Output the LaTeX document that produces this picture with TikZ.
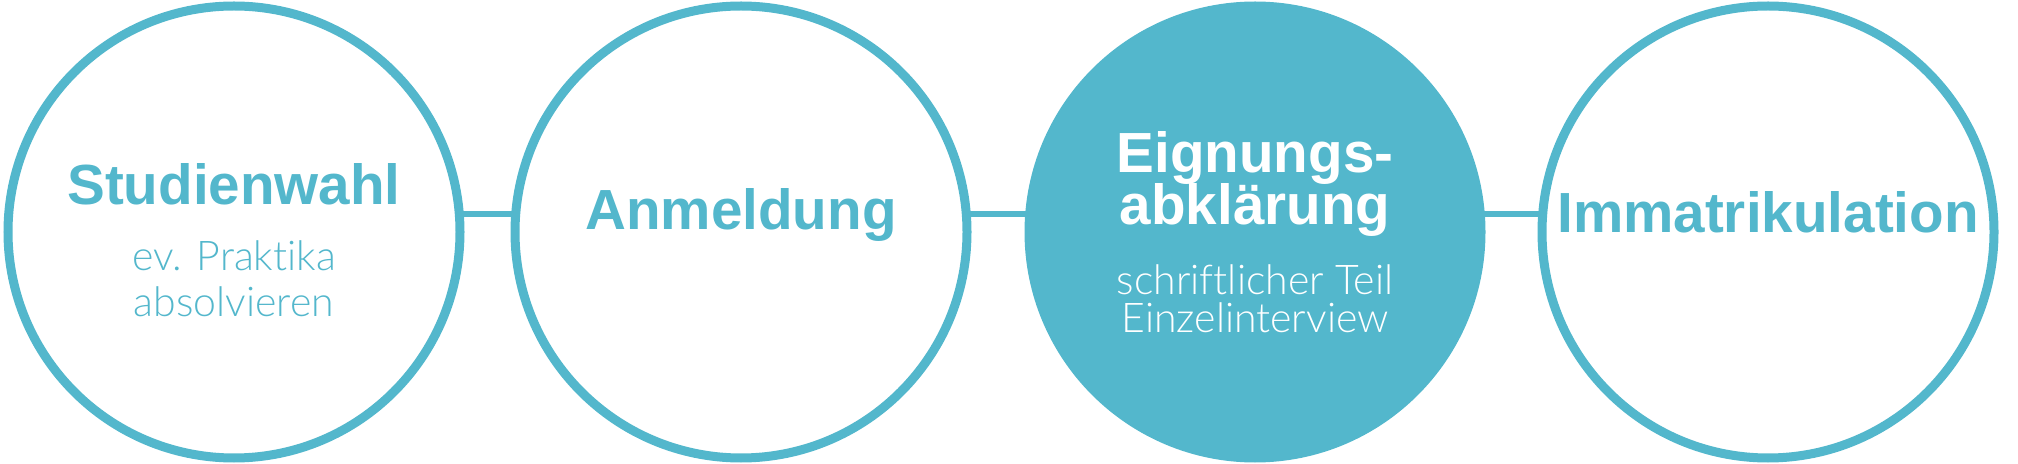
\documentclass[tikz,border=0pt]{standalone}
\usepackage{fontspec}
\setmainfont{Liberation Sans}
\IfFontExistsTF{Lato Light}{\newfontfamily\lightfont{Lato Light}[Ligatures=NoCommon]}{\newfontfamily\lightfont{Liberation Sans}}
\definecolor{teal1}{RGB}{83,183,204}
\tikzset{
  ring/.style={circle, draw=teal1, line width=4.5pt, minimum size=226pt, inner sep=0pt, fill=white},
  ringfilled/.style={ring, fill=teal1},
  link/.style={draw=teal1, line width=3.3pt},
  title/.style={anchor=base, inner sep=0pt, font=\fontsize{28.3}{30}\selectfont\bfseries},
  sub/.style={anchor=base, inner sep=0pt, font=\fontsize{20.5}{22}\selectfont\lightfont},
}
\begin{document}
\begin{tikzpicture}[x=0.5pt, y=-0.5pt]
\useasboundingbox (0,0) rectangle (2018,464);
% connectors drawn first (behind circles)
\coordinate (p1) at (234,214);
\coordinate (p2) at (741,214);
\coordinate (p3) at (1255,214);
\coordinate (p4) at (1768,214);
\draw[link] (p1) -- (p2);
\draw[link] (p2) -- (p3);
\draw[link] (p3) -- (p4);
\node[ring] (c1) at (234,232) {};
\node[ring] (c2) at (741,232) {};
\node[ringfilled] (c3) at (1255,232) {};
\node[ring] (c4) at (1768,232) {};
% texts
\node[title, text=teal1] (t1) at (234,205) {Studienwahl};
\node[sub, text=teal1] (s1a) at (234,271) {ev. Praktika};
\node[sub, text=teal1] (s1b) at (234,317) {absolvieren};
\node[title, text=teal1] (t2) at (741,230) {Anmeldung};
\node[title, text=white] (t3a) at (1255,173) {Eignungs-};
\node[title, text=white] (t3b) at (1255,225) {abklärung};
\node[sub, text=white] (s3a) at (1255,295) {schriftlicher Teil};
\node[sub, text=white] (s3b) at (1255,333) {Einzelinterview};
\node[title, text=teal1] (t4) at (1768,233) {Immatrikulation};
\end{tikzpicture}
\end{document}
